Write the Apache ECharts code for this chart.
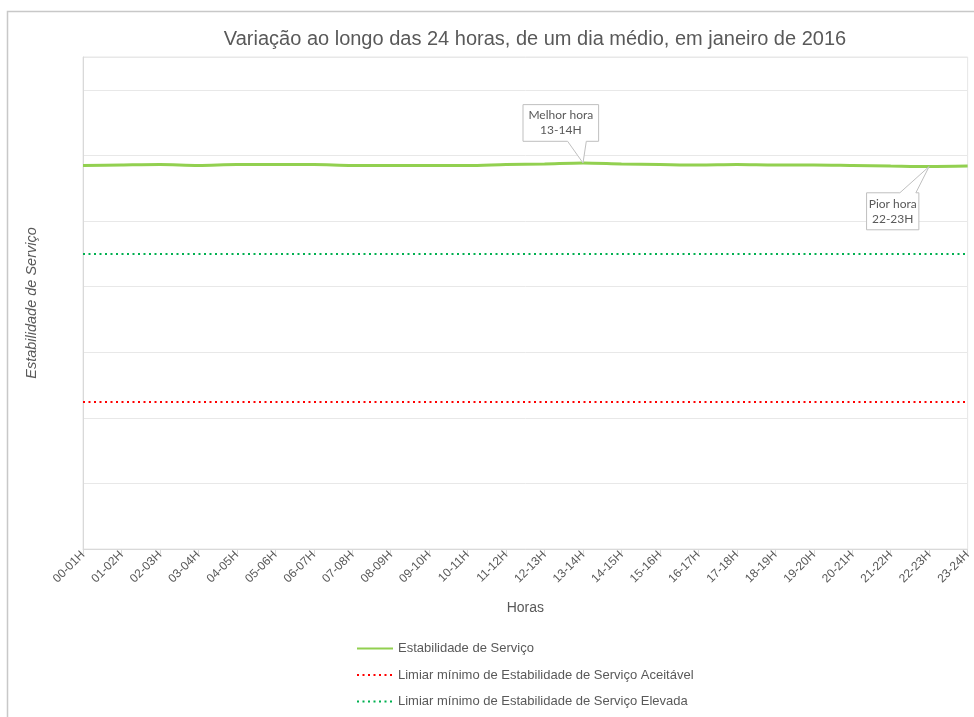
<!DOCTYPE html>
<html>
<head>
<meta charset="utf-8">
<script src="https://cdn.jsdelivr.net/npm/echarts@6/dist/echarts.min.js"></script>
<style>
  html, body { margin: 0; padding: 0; background: #fff; }
  #chart { width: 974px; height: 717px; }
</style>
</head>
<body>
<div id="chart"></div>
<script>
// Hour slots of the average day
const hours = ['00-01H','01-02H','02-03H','03-04H','04-05H','05-06H','06-07H','07-08H',
  '08-09H','09-10H','10-11H','11-12H','12-13H','13-14H','14-15H','15-16H','16-17H',
  '17-18H','18-19H','19-20H','20-21H','21-22H','22-23H','23-24H'];

// Service stability per hour
const stability = [58.46, 58.54, 58.61, 58.46, 58.61, 58.61, 58.61, 58.46,
  58.46, 58.46, 58.46, 58.61, 58.69, 58.84, 58.69, 58.61, 58.54,
  58.61, 58.54, 58.54, 58.46, 58.38, 58.31, 58.38];

// Threshold levels
const thresholdAcceptable = 22.5;
const thresholdHigh = 45;

// Axis range
const yMin = 0, yMax = 75, yStep = 10;

// Callouts
const bestHour = '13-14H';
const worstHour = '22-23H';

const textColor = '#595959';
const chart = echarts.init(document.getElementById('chart'));

function thresholdSeries(name, value, color) {
  return {
    name: name,
    type: 'line',
    data: [],
    symbol: 'none',
    lineStyle: { color: color, width: 2, type: [2, 3.5] },
    itemStyle: { color: color },
    markLine: {
      silent: true,
      symbol: 'none',
      label: { show: false },
      lineStyle: { color: color, width: 2, type: [2, 3.5] },
      data: [{ yAxis: value }]
    }
  };
}

chart.setOption({
  animation: false,
  title: {
    text: 'Variação ao longo das 24 horas, de um dia médio, em janeiro de 2016',
    left: 530, textAlign: 'center', top: 24,
    textStyle: { fontFamily: 'Liberation Sans', fontSize: 20, fontWeight: 'normal', color: textColor }
  },
  grid: {
    left: 83, right: 6, top: 57, bottom: 168,
    show: true, borderColor: '#e6e6e6', borderWidth: 1
  },
  legend: {
    orient: 'vertical', left: 351, top: 637, itemGap: 13.5,
    itemWidth: 36, itemHeight: 12,
    itemStyle: { opacity: 0 },
    textStyle: { fontFamily: 'Liberation Sans', fontSize: 13, color: textColor },
    data: ['Estabilidade de Serviço',
      'Limiar mínimo de Estabilidade de Serviço Aceitável',
      'Limiar mínimo de Estabilidade de Serviço Elevada']
  },
  xAxis: {
    type: 'category', data: hours, boundaryGap: false,
    name: 'Horas', nameLocation: 'middle', nameGap: 52,
    nameTextStyle: { fontFamily: 'Liberation Sans', fontSize: 14, color: textColor },
    axisLine: { lineStyle: { color: '#d9d9d9' } },
    axisTick: { show: true, length: 5, lineStyle: { color: '#d9d9d9' } },
    axisLabel: { rotate: 45, margin: 4, interval: 0, fontFamily: 'Liberation Sans', fontSize: 12, color: textColor },
    splitLine: { show: false }
  },
  yAxis: {
    type: 'value', min: yMin, max: yMax, interval: yStep,
    name: 'Estabilidade de Serviço', nameLocation: 'middle', nameGap: 44,
    nameTextStyle: { fontFamily: 'Liberation Sans', fontSize: 14.5, fontStyle: 'italic', color: textColor },
    axisLine: { show: true, lineStyle: { color: '#d9d9d9' } },
    axisTick: { show: false },
    axisLabel: { show: false },
    splitLine: { lineStyle: { color: '#e8e8e8' } }
  },
  series: [
    {
      name: 'Estabilidade de Serviço', type: 'line', data: stability,
      symbol: 'none', smooth: 0.3,
      lineStyle: { color: '#92d050', width: 3 },
      itemStyle: { color: '#92d050' }
    },
    thresholdSeries('Limiar mínimo de Estabilidade de Serviço Aceitável', thresholdAcceptable, '#ff0000'),
    thresholdSeries('Limiar mínimo de Estabilidade de Serviço Elevada', thresholdHigh, '#00b050')
  ]
});

// Callout boxes pointing at the best and worst hours
function callout(hour, lines, box, base) {
  const idx = hours.indexOf(hour);
  const [px, py] = chart.convertToPixel({ gridIndex: 0 }, [idx, stability[idx]]);
  const l = px + box.l, r = px + box.r, t = py + box.t, b = py + box.b;
  let pts;
  if (box.t < 0) {
    // box above the point, pointer from bottom edge
    pts = [[l, t], [r, t], [r, b], [px + base[1], b], [px, py], [px + base[0], b], [l, b]];
  } else {
    // box below the point, pointer from top edge
    pts = [[l, t], [px + base[0], t], [px, py], [px + base[1], t], [r, t], [r, b], [l, b]];
  }
  return [
    { type: 'polygon', shape: { points: pts }, z: 100,
      style: { fill: '#ffffff', stroke: '#bfbfbf', lineWidth: 1 } },
    { type: 'text', z: 101, x: (l + r) / 2, y: (t + b) / 2,
      style: { text: lines.join('\n'), fill: textColor, font: '12px Lato',
        align: 'center', verticalAlign: 'middle', lineHeight: 15 } }
  ];
}

chart.setOption({
  graphic: [
    { type: 'rect', shape: { x: 7.5, y: 11.5, width: 1200, height: 1200 }, silent: true,
      style: { fill: null, stroke: '#c8c8c8', lineWidth: 1.5 }, z: 0 },
    ...callout(bestHour, ['Melhor hora', bestHour], { l: -60, r: 15.6, t: -58.4, b: -21.7 }, [-15.4, 3.3]),
    ...callout(worstHour, ['Pior hora', worstHour], { l: -62.6, r: -10.3, t: 26.3, b: 63.3 }, [-29.3, -13.3])
  ]
});
</script>
</body>
</html>
